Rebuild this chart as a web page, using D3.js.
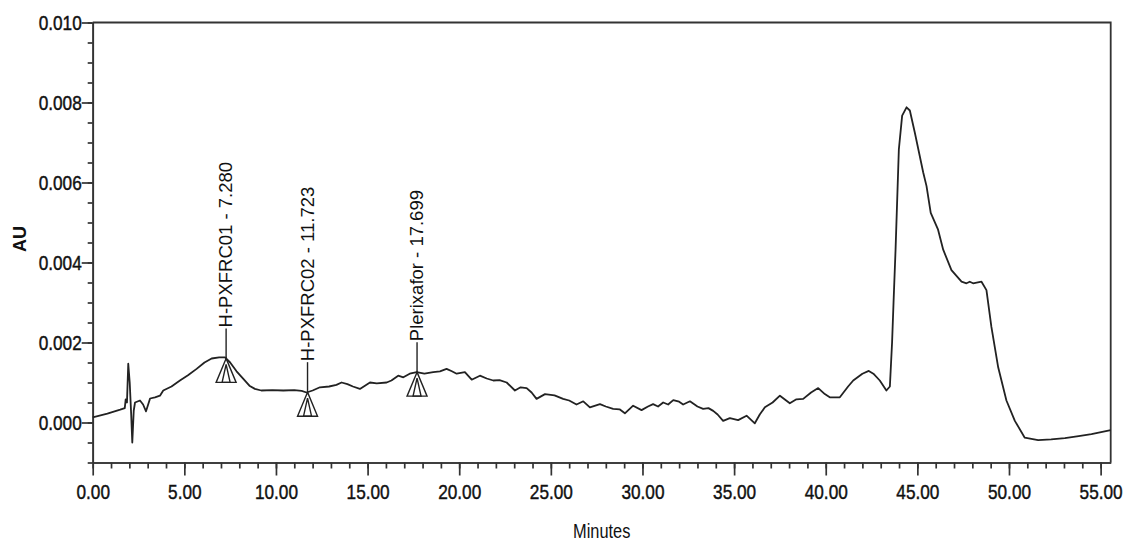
<!DOCTYPE html>
<html>
<head>
<meta charset="utf-8">
<script src="https://cdn.jsdelivr.net/npm/d3@7"></script>
<style>
  body { margin: 0; background: #fff; }
  svg { display: block; }
  .trace { fill: none; stroke: #222; stroke-width: 1.8; stroke-linejoin: round; }
  .frame { fill: none; stroke: #333; stroke-width: 1.8; }
  .axis path, .axis line { stroke: #333; stroke-width: 1.7; }
  .axis text { font-family: "Liberation Sans", Arial, sans-serif; font-size: 21px; fill: #111; stroke: #111; stroke-width: 0.45; }
  .marker { fill: none; stroke: #222; stroke-width: 1.4; }
  .peak_label { font-family: "Liberation Sans", Arial, sans-serif; font-size: 18.5px; fill: #111; }
  .axis_title { font-family: "Liberation Sans", Arial, sans-serif; fill: #111; }
</style>
</head>
<body>
<div id="chart"></div>
<script>
// retention time (minutes) and absorbance (AU)
var times = [
  0.00, 0.80, 1.50, 1.75, 1.80, 1.87, 1.94, 2.02, 2.10, 2.16, 2.24, 2.31, 2.58, 2.75, 2.91,
  3.13, 3.40, 3.67, 3.85, 4.30, 4.76, 5.20, 5.67, 6.10, 6.49, 6.90, 7.22, 7.50, 7.85, 8.22,
  8.55, 8.85, 9.20, 9.80, 10.40, 11.00, 11.40, 11.67, 12.00, 12.40, 12.90, 13.30, 13.58, 13.90, 14.20,
  14.58, 15.13, 15.50, 16.04, 16.30, 16.67, 16.95, 17.30, 17.68, 18.10, 18.58, 18.95, 19.31, 19.60, 19.86,
  20.31, 20.68, 21.13, 21.50, 21.86, 22.20, 22.59, 23.04, 23.35, 23.68, 23.95, 24.22, 24.68, 25.20, 25.67,
  26.00, 26.40, 26.77, 27.13, 27.68, 28.00, 28.40, 28.75, 29.04, 29.49, 29.95, 30.30, 30.58, 30.85, 31.13,
  31.40, 31.68, 32.00, 32.22, 32.59, 33.00, 33.31, 33.60, 33.86, 34.10, 34.40, 34.77, 35.22, 35.68, 36.13,
  36.40, 36.68, 37.10, 37.50, 38.04, 38.40, 38.77, 39.20, 39.59, 39.95, 40.22, 40.77, 41.22, 41.50, 42.00,
  42.35, 42.60, 42.95, 43.31, 43.50, 43.62, 43.70, 43.81, 43.99, 44.17, 44.41, 44.59, 44.86, 45.32, 45.50,
  45.73, 46.13, 46.41, 46.86, 47.41, 47.68, 47.86, 48.04, 48.50, 48.77, 49.04, 49.41, 49.86, 50.32, 50.86,
  51.59, 52.30, 53.05, 53.80, 54.50, 55.55
]
var absorbance = [
  0.00013, 0.00022, 0.00032, 0.00036, 0.00058, 0.00050, 0.00147, 0.00100, 0.00020, -0.00050, 0.00030, 0.00050, 0.00055, 0.00045, 0.00028,
  0.00060, 0.00063, 0.00067, 0.00080, 0.00090, 0.00105, 0.00118, 0.00134, 0.00150, 0.00160, 0.00163, 0.00163, 0.00150, 0.00128, 0.00109,
  0.00092, 0.00084, 0.00080, 0.00081, 0.00080, 0.00081, 0.00079, 0.00075, 0.00080, 0.00088, 0.00090, 0.00094, 0.00100, 0.00096, 0.00090,
  0.00084, 0.00100, 0.00098, 0.00100, 0.00105, 0.00117, 0.00113, 0.00122, 0.00126, 0.00122, 0.00126, 0.00128, 0.00134, 0.00128, 0.00122,
  0.00126, 0.00107, 0.00117, 0.00110, 0.00105, 0.00106, 0.00100, 0.00080, 0.00088, 0.00086, 0.00075, 0.00059, 0.00071, 0.00068, 0.00059,
  0.00055, 0.00045, 0.00053, 0.00038, 0.00046, 0.00040, 0.00034, 0.00033, 0.00023, 0.00042, 0.00031, 0.00040, 0.00046, 0.00040, 0.00050,
  0.00045, 0.00056, 0.00052, 0.00045, 0.00053, 0.00040, 0.00034, 0.00036, 0.00029, 0.00020, 0.00004, 0.00011, 0.00006, 0.00017, -0.00002,
  0.00020, 0.00038, 0.00050, 0.00067, 0.00048, 0.00058, 0.00059, 0.00075, 0.00086, 0.00071, 0.00063, 0.00063, 0.00090, 0.00105, 0.00122,
  0.00129, 0.00122, 0.00105, 0.00080, 0.00090, 0.00200, 0.00300, 0.00432, 0.00683, 0.00767, 0.00788, 0.00780, 0.00725, 0.00625, 0.00591,
  0.00524, 0.00482, 0.00432, 0.00381, 0.00352, 0.00348, 0.00352, 0.00348, 0.00352, 0.00331, 0.00239, 0.00138, 0.00055, 0.00004, -0.00038,
  -0.00044, -0.00042, -0.00039, -0.00034, -0.00029, -0.00019
]

// integrated peaks
var peak_names = ["H-PXFRC01", "H-PXFRC02", "Plerixafor"]
var peak_times = [7.280, 11.723, 17.699]

var x_major_ticks = d3.range(0, 56, 5)
var x_minor_ticks = d3.range(0, 56, 1)
var y_major_ticks = [0.000, 0.002, 0.004, 0.006, 0.008, 0.010]
var y_minor_ticks = d3.range(-0.001, 0.01001, 0.0005)

var width = 1125,
    height = 541
var plot = { left: 92.7, right: 1110.7, top: 22.5, bottom: 462.5 }
var squeeze = 0.82 // the printout uses a condensed face

var svg = d3.select("#chart").append("svg")
  .attr("width", width)
  .attr("height", height)

var x = d3.scaleLinear()
  .domain([0, 55.55])
  .range([plot.left, plot.right])
var y = d3.scaleLinear()
  .domain([-0.001, 0.010])
  .range([plot.bottom, plot.top])

// frame: top and right edges
svg.append("polyline")
  .attr("class", "frame")
  .attr("points", [[plot.left, plot.top], [plot.right, plot.top], [plot.right, plot.bottom]].join(" "))

// minor ticks first, then major ones with labels
svg.append("g")
  .attr("class", "axis")
  .attr("transform", "translate(0," + plot.bottom + ")")
  .call(d3.axisBottom(x).tickValues(x_minor_ticks).tickSize(6).tickSizeOuter(0).tickFormat(""))
var x_axis = svg.append("g")
  .attr("class", "axis")
  .attr("transform", "translate(0," + plot.bottom + ")")
  .call(d3.axisBottom(x).tickValues(x_major_ticks).tickSize(13).tickSizeOuter(0).tickPadding(9).tickFormat(d3.format(".2f")))
x_axis.selectAll("text")
  .attr("transform", "scale(" + squeeze + ",1)")

svg.append("g")
  .attr("class", "axis")
  .attr("transform", "translate(" + plot.left + ",0)")
  .call(d3.axisLeft(y).tickValues(y_minor_ticks).tickSize(5).tickSizeOuter(0).tickFormat(""))
var y_axis = svg.append("g")
  .attr("class", "axis")
  .attr("transform", "translate(" + plot.left + ",0)")
  .call(d3.axisLeft(y).tickValues(y_major_ticks).tickSize(11).tickSizeOuter(0).tickPadding(0).tickFormat(d3.format(".3f")))
y_axis.selectAll("text")
  .attr("x", -11 / squeeze)
  .attr("transform", "scale(" + squeeze + ",1)")

svg.append("text")
  .attr("class", "axis_title")
  .attr("transform", "translate(" + ((plot.left + plot.right) / 2) + ",538) scale(" + squeeze + ",1)")
  .attr("text-anchor", "middle")
  .style("font-size", "20px")
  .text("Minutes")

svg.append("text")
  .attr("class", "axis_title")
  .attr("transform", "translate(26,239) rotate(-90)")
  .attr("text-anchor", "middle")
  .style("font-size", "18px")
  .style("font-weight", "bold")
  .text("AU")

var points = times.map(function (t, i) { return [t, absorbance[i]] })
var line = d3.line()
  .x(function (d) { return x(d[0]) })
  .y(function (d) { return y(d[1]) })

svg.append("path")
  .attr("class", "trace")
  .attr("d", line(points))

// peak markers: label, leader line and a double triangle at the apex
var absorbance_at = function (t) {
  var i = d3.bisectRight(times, t)
  var f = (t - times[i - 1]) / (times[i] - times[i - 1])
  return absorbance[i - 1] + f * (absorbance[i] - absorbance[i - 1])
}

peak_names.forEach(function (name, i) {
  var px = x(peak_times[i]),
      py = y(absorbance_at(peak_times[i]))
  var g = svg.append("g")

  g.append("line")
    .attr("class", "marker")
    .attr("x1", px).attr("y1", py - 30)
    .attr("x2", px).attr("y2", py)
  g.append("polygon")
    .attr("class", "marker")
    .attr("points", [[px, py], [px - 10, py + 24], [px + 10, py + 24]].join(" "))
  g.append("polygon")
    .attr("class", "marker")
    .attr("points", [[px, py + 6], [px - 4, py + 24], [px + 4, py + 24]].join(" "))

  g.append("text")
    .attr("class", "peak_label")
    .attr("transform", "translate(" + (px + 6) + "," + (py - 31) + ") rotate(-90)")
    .text(name + " - " + d3.format(".3f")(peak_times[i]))
})
</script>
</body>
</html>
